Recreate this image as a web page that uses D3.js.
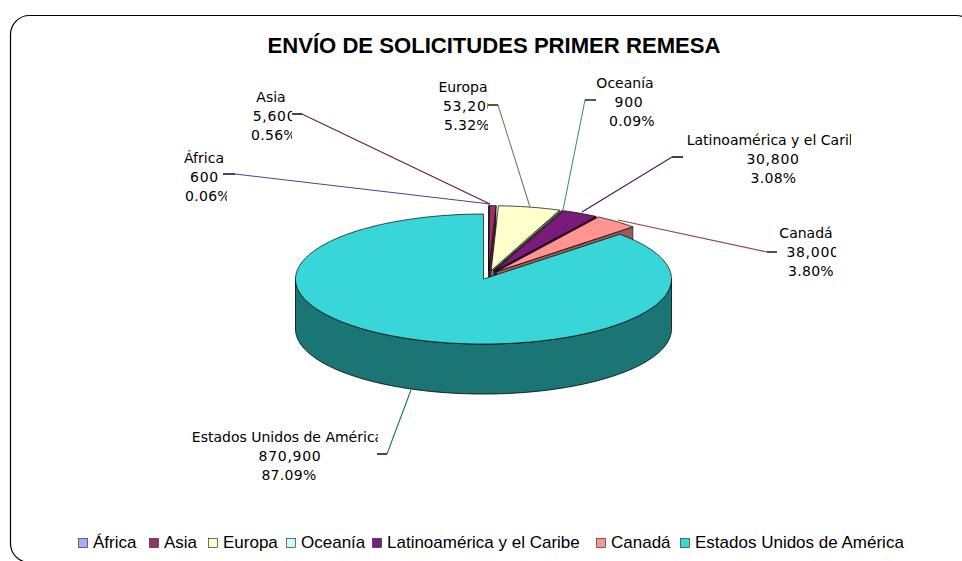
<!DOCTYPE html>
<html><head><meta charset="utf-8">
<script src="https://cdn.jsdelivr.net/npm/d3@7/dist/d3.min.js"></script>
<style>html,body{margin:0;padding:0;background:#fff;overflow:hidden}svg{display:block}</style>
</head><body>
<svg id="c" width="962" height="561"></svg>
<script>
const chartTitle = "ENVÍO DE SOLICITUDES PRIMER REMESA";
const categories = ["África","Asia","Europa","Oceanía","Latinoamérica y el Caribe","Canadá","Estados Unidos de América"];
const values = [600,5600,53200,900,30800,38000,870900];
const valueLabels = ["600","5,600","53,200","900","30,800","38,000","870,900"];
const percentLabels = ["0.06%","0.56%","5.32%","0.09%","3.08%","3.80%","87.09%"];
const topColors = ["#aaaaff","#993366","#ffffcc","#ccffff","#7a1a7a","#ff9490","#38d6d8"];
const sideColors = ["#55558c","#5a1d3c","#8c8c70","#708c8c","#3d0d3d","#9c5a58","#1c7575"];
const leaderColors = ["#44449a","#5c1a3c","#7a7a60","#4a8a8a","#4a0f5a","#8c4a48","#137070"];
// label layout: line centres, first baseline y, clip right edge, leader points
const labelBoxes = [
 {cx:[204,204.5,208],y:163,clip:227,leader:[[223,174],[235,174],[490,204]]},
 {cx:[271,274.5,274],y:102,clip:292,leader:[[292,114],[302,114],[490,204]]},
 {cx:[463,469.5,467],y:92,clip:488,leader:[[488,105],[498,105],[530,207]]},
 {cx:[625,629,632],y:88,clip:670,leader:[[596,100],[585,100],[563,210]]},
 {cx:[776.5,773,773.5],y:145,clip:851,leader:[[683,157],[672,157],[582,212]]},
 {cx:[806,813,811],y:238,clip:836,leader:[[777,252],[767,252],[618,220]]},
 {cx:[287.5,290,289],y:442,clip:378,leader:[[377,454],[387,454],[411,390]]}
];
const lineSpacing = [0,0.7,0.3];
const legendX = [78,149,208,286,372,596,680];

const svg = d3.select("#c");
const rx = 188, ry = 65, depth = 50, explode = 12.7;
const cx = 488.5, cy = 275;
const xS = d3.scaleLinear().domain([-1,1]).range([cx-rx,cx+rx]);
const yS = d3.scaleLinear().domain([-1,1]).range([cy-ry,cy+ry]);
const pie = d3.pie().sort(null).value(d=>d)(values);

// frame
svg.append("rect").attr("x",10.5).attr("y",15.5).attr("width",965).attr("height",547)
  .attr("rx",19).attr("ry",19).attr("fill","#fff").attr("stroke","#000").attr("stroke-width",1.2);

svg.append("text").text(chartTitle).attr("x",494).attr("y",53).attr("text-anchor","middle")
  .attr("font-family","Liberation Sans").attr("font-weight","bold").attr("font-size",22.1).attr("fill","#000");

// projection of unit-circle coordinates
const px = (s,a,r)=> xS(r*Math.sin(a) + explode/rx*Math.sin((s.startAngle+s.endAngle)/2));
const py = (s,a,r)=> yS(-r*Math.cos(a) - explode/rx*Math.cos((s.startAngle+s.endAngle)/2));
const line = d3.line();
function arcPts(s,a0,a1,dy){
  const n = Math.max(2,Math.ceil((a1-a0)/0.02));
  return d3.range(n+1).map(i=>{const a=a0+(a1-a0)*i/n;return [px(s,a,1),py(s,a,1)+dy];});
}
const g = svg.append("g");
pie.forEach((s,i)=>{
  // radial wall at the end of the slice
  const ex=px(s,s.endAngle,1), ey=py(s,s.endAngle,1), ax=px(s,0,0), ay=py(s,0,0);
  if(i<pie.length-1){
    g.append("path").attr("d",line([[ax,ay],[ex,ey],[ex,ey+depth],[ax,ay+depth]])+"Z")
     .attr("fill",sideColors[i]).attr("stroke","#000").attr("stroke-width",0.5);
  }
  // outer wall (only the front half shows)
  const a0=Math.max(s.startAngle,Math.PI/2), a1=Math.min(s.endAngle,Math.PI*1.5);
  if(a1>a0){
    const top=arcPts(s,a0,a1,0), bot=arcPts(s,a0,a1,depth).reverse();
    g.append("path").attr("d",line(top.concat(bot))+"Z")
     .attr("fill",sideColors[i]).attr("stroke","#000").attr("stroke-width",0.8);
  }
  // top face
  g.append("path").attr("d",line([[ax,ay]].concat(arcPts(s,s.startAngle,s.endAngle,0)))+"Z")
   .attr("fill",topColors[i]).attr("stroke","#000").attr("stroke-width",0.7);
});

// labels and leaders
const defs = svg.append("defs");
labelBoxes.forEach((b,i)=>{
  g.append("path").attr("d",line(b.leader)).attr("fill","none")
    .attr("stroke",leaderColors[i]).attr("stroke-width",1.1);
  g.append("path").attr("d",line(b.leader.slice(0,2))).attr("fill","none")
    .attr("stroke","#000").attr("stroke-width",1.1);
  defs.append("clipPath").attr("id","cl"+i).append("rect")
    .attr("x",b.clip-300).attr("y",b.y-20).attr("width",300).attr("height",70);
  const t = svg.append("g").attr("clip-path",`url(#cl${i})`).append("text")
    .attr("font-family","DejaVu Sans").attr("font-size",14).attr("fill","#000").attr("text-anchor","middle");
  [categories[i],valueLabels[i],percentLabels[i]].forEach((str,k)=>{
    t.append("tspan").attr("x",b.cx[k]).attr("y",b.y+k*19).attr("letter-spacing",lineSpacing[k]).text(str);
  });
});

// legend
const legend = svg.append("g");
categories.forEach((c,i)=>{
  legend.append("rect").attr("x",legendX[i]+0.5).attr("y",538.5).attr("width",9).attr("height",9)
    .attr("fill",topColors[i]).attr("stroke","#333").attr("stroke-width",0.7);
  legend.append("text").text(c).attr("x",legendX[i]+15).attr("y",548)
    .attr("font-family","Liberation Sans").attr("font-size",17).attr("fill","#000");
});
</script>
</body></html>
